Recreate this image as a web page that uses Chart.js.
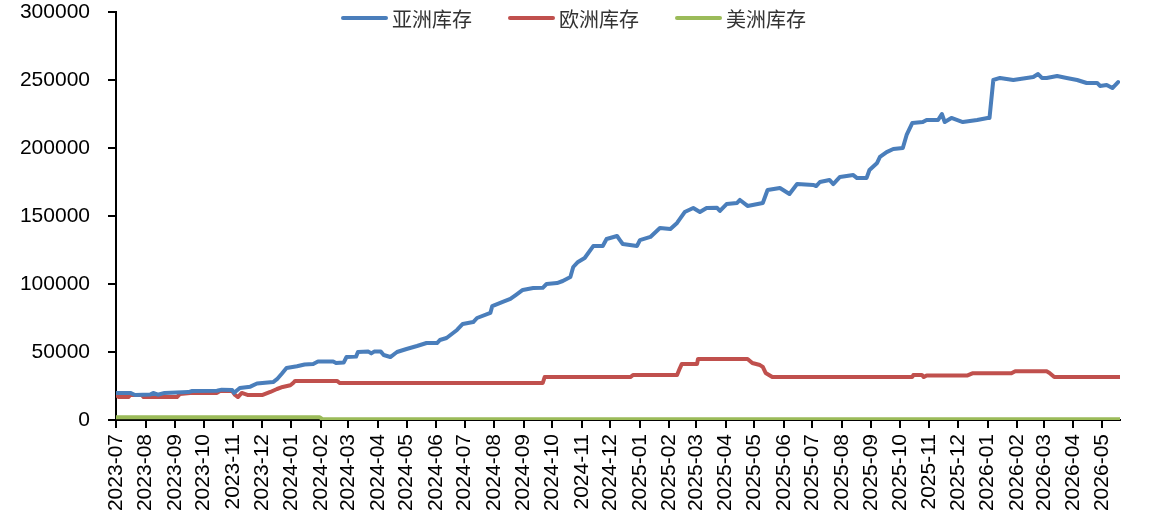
<!DOCTYPE html>
<html>
<head>
<meta charset="utf-8">
<script src="https://cdn.jsdelivr.net/npm/chart.js@4.4.1/dist/chart.umd.min.js"></script>
<style>
  html, body { margin: 0; padding: 0; background: #ffffff; overflow: hidden; }
  #wrap { width: 1151px; height: 519px; }
</style>
</head>
<body>
<div id="wrap"><canvas id="c" width="1151" height="519"></canvas></div>
<script>
// Monthly tick labels on the date axis
const monthTicks = ['2023-07','2023-08','2023-09','2023-10','2023-11','2023-12',
  '2024-01','2024-02','2024-03','2024-04','2024-05','2024-06','2024-07','2024-08',
  '2024-09','2024-10','2024-11','2024-12','2025-01','2025-02','2025-03','2025-04',
  '2025-05','2025-06','2025-07','2025-08','2025-09','2025-10','2025-11','2025-12',
  '2026-01','2026-02','2026-03','2026-04','2026-05'];

const seriesNames = ['亚洲库存', '欧洲库存', '美洲库存'];
const seriesColors = ['#4A7EBB', '#C0504D', '#9BBB59'];

// 亚洲库存
const asiaDates = ['2023-07-01','2023-07-16','2023-07-21','2023-08-06','2023-08-09','2023-08-14','2023-08-21','2023-09-15','2023-09-19','2023-10-15','2023-10-20','2023-10-31','2023-11-02','2023-11-08','2023-11-19','2023-11-26','2023-12-13','2023-12-17','2023-12-22','2023-12-27','2024-01-07','2024-01-15','2024-01-24','2024-01-29','2024-02-14','2024-02-17','2024-02-25','2024-02-28','2024-03-09','2024-03-11','2024-03-22','2024-03-25','2024-03-28','2024-04-04','2024-04-07','2024-04-14','2024-04-21','2024-05-01','2024-05-12','2024-05-22','2024-06-02','2024-06-05','2024-06-12','2024-06-23','2024-06-29','2024-07-10','2024-07-14','2024-07-28','2024-07-30','2024-08-10','2024-08-18','2024-08-24','2024-08-31','2024-09-11','2024-09-21','2024-09-25','2024-10-06','2024-10-12','2024-10-20','2024-10-23','2024-10-28','2024-11-04','2024-11-13','2024-11-23','2024-11-27','2024-12-08','2024-12-11','2024-12-14','2024-12-29','2025-01-01','2025-01-12','2025-01-22','2025-02-02','2025-02-09','2025-02-17','2025-02-26','2025-03-05','2025-03-12','2025-03-23','2025-03-26','2025-04-02','2025-04-13','2025-04-16','2025-04-24','2025-05-10','2025-05-15','2025-05-28','2025-06-07','2025-06-15','2025-07-02','2025-07-05','2025-07-09','2025-07-19','2025-07-23','2025-07-30','2025-08-13','2025-08-17','2025-08-27','2025-08-30','2025-09-07','2025-09-10','2025-09-17','2025-09-24','2025-10-04','2025-10-08','2025-10-14','2025-10-25','2025-10-29','2025-11-10','2025-11-14','2025-11-17','2025-11-24','2025-12-06','2025-12-21','2026-01-01','2026-01-03','2026-01-07','2026-01-14','2026-01-28','2026-02-18','2026-02-23','2026-02-27','2026-03-04','2026-03-15','2026-03-25','2026-04-05','2026-04-15','2026-04-26','2026-04-29','2026-05-06','2026-05-12','2026-05-18'];
const asiaValues = [19900,19900,18400,18800,19900,18600,19900,20500,21300,21500,22300,22000,20000,23500,24500,26800,27900,30000,34000,38200,39500,40800,41200,43000,43000,41900,42200,46300,46600,50000,50300,49000,50300,50300,47800,46300,50000,52200,54400,56600,56600,58800,60300,66200,70600,72000,75000,78700,83800,86800,89000,92000,95600,97000,97200,100000,100700,102200,105100,112500,116200,119100,127900,128000,133100,135300,132300,129400,128000,132300,134600,141200,140400,144900,152900,155900,152900,155900,156000,153700,158800,159600,161800,157400,159600,169100,170600,166200,173500,172800,172000,175000,176500,173500,178700,180100,177900,178000,183800,189000,193400,197000,199300,200000,209600,218400,219100,220600,220600,225000,219100,222100,219100,220600,222100,222100,250000,251500,250000,252200,254400,251500,251500,252900,251500,250000,247800,247800,245600,246300,244100,248500];

// 欧洲库存
const euroDates = ['2023-07-01','2023-07-04','2023-07-14','2023-07-16','2023-07-28','2023-07-30','2023-09-03','2023-09-06','2023-09-17','2023-10-15','2023-10-18','2023-10-31','2023-11-03','2023-11-06','2023-11-10','2023-11-16','2023-12-02','2023-12-10','2023-12-17','2023-12-23','2023-12-31','2024-01-03','2024-01-05','2024-02-18','2024-02-21','2024-09-21','2024-09-23','2024-12-22','2024-12-25','2025-02-09','2025-02-12','2025-02-14','2025-03-02','2025-03-03','2025-04-24','2025-04-29','2025-05-07','2025-05-10','2025-05-13','2025-05-20','2025-10-14','2025-10-15','2025-10-24','2025-10-26','2025-10-29','2025-12-11','2025-12-16','2026-01-26','2026-01-30','2026-03-04','2026-03-07','2026-03-12','2026-05-20'];
const euroValues = [18400,16900,16900,18400,18400,16900,16900,19100,19900,19900,21300,21300,18400,16900,19900,18400,18400,20600,22800,24300,25500,27200,28700,28700,27200,27200,31600,31600,33100,33100,38200,41200,41200,44900,44900,41900,40400,39000,34600,31600,31600,33100,33100,31600,32800,32800,34300,34300,35800,35800,34600,31600,31600];

// 美洲库存
const amerDates = ['2023-07-01','2024-01-31','2024-02-03','2026-05-20'];
const amerValues = [2000,2000,500,500];

const DAY = 86400000;
const origin = Date.UTC(2023, 6, 1);
function dayOf(s) {
  const p = s.split('-').map(Number);
  return (Date.UTC(p[0], p[1] - 1, p[2] || 1) - origin) / DAY;
}
function toPoints(dates, values) {
  return dates.map((d, i) => ({ x: dayOf(d), y: values[i] }));
}

const lastDay = dayOf('2026-05-20');

// Legend drawn across the top of the plot
const topLegend = {
  id: 'topLegend',
  afterDraw(chart) {
    const ctx = chart.ctx;
    const font = '20px "Noto Sans CJK SC", sans-serif';
    ctx.save();
    ctx.font = font;
    const sw = 47, gapText = 4, gapItem = 36;
    const items = chart.data.datasets.map(ds => ({
      label: ds.label, color: ds.borderColor, w: sw + gapText + ctx.measureText(ds.label).width
    }));
    const total = items.reduce((a, it) => a + it.w, 0) + gapItem * (items.length - 1);
    let x = chart.width / 2 - total / 2 - 2;
    const y = 18;
    items.forEach(it => {
      ctx.strokeStyle = it.color;
      ctx.lineWidth = 4;
      ctx.lineCap = 'round';
      ctx.beginPath();
      ctx.moveTo(x + 2, y);
      ctx.lineTo(x + sw - 2, y);
      ctx.stroke();
      ctx.fillStyle = '#333333';
      ctx.textBaseline = 'middle';
      ctx.textAlign = 'left';
      ctx.fillText(it.label, x + sw + gapText, y + 1);
      x += it.w + gapItem;
    });
    ctx.restore();
  }
};

const lineStyle = { borderWidth: 4, pointRadius: 0, tension: 0, fill: false,
  borderJoinStyle: 'round', borderCapStyle: 'round' };

new Chart(document.getElementById('c'), {
  type: 'line',
  data: {
    datasets: [
      Object.assign({ label: seriesNames[0], data: toPoints(asiaDates, asiaValues), borderColor: seriesColors[0], backgroundColor: seriesColors[0] }, lineStyle),
      Object.assign({ label: seriesNames[1], data: toPoints(euroDates, euroValues), borderColor: seriesColors[1], backgroundColor: seriesColors[1] }, lineStyle),
      Object.assign({ label: seriesNames[2], data: toPoints(amerDates, amerValues), borderColor: seriesColors[2], backgroundColor: seriesColors[2] }, lineStyle)
    ]
  },
  options: {
    responsive: false,
    animation: false,
    devicePixelRatio: 1,
    layout: { padding: { top: 12, right: 31, left: 0, bottom: 0 } },
    plugins: { legend: { display: false }, tooltip: { enabled: false } },
    scales: {
      x: {
        type: 'linear',
        min: 0,
        max: lastDay,
        afterBuildTicks: (scale) => { scale.ticks = monthTicks.map(m => ({ value: dayOf(m + '-01') })); },
        afterFit: (scale) => { scale.height = 99; },
        border: { display: true, color: '#000000', width: 2 },
        grid: { drawOnChartArea: false, drawTicks: true, tickLength: 8, color: '#000000', lineWidth: 2 },
        ticks: {
          autoSkip: false,
          minRotation: 90,
          maxRotation: 90,
          padding: 6,
          color: '#000000',
          font: { family: '"Liberation Sans", Arial, sans-serif', size: 21 },
          callback: (v, i) => monthTicks[i]
        }
      },
      y: {
        min: 0,
        max: 300000,
        afterFit: (scale) => { scale.width = 116; scale.paddingTop = 0; scale.paddingBottom = 0; },
        border: { display: true, color: '#000000', width: 2 },
        grid: { drawOnChartArea: false, drawTicks: true, tickLength: 8, color: '#000000', lineWidth: 2 },
        ticks: {
          stepSize: 50000,
          padding: 18,
          color: '#000000',
          font: { family: '"Liberation Sans", Arial, sans-serif', size: 21 },
          callback: (v) => String(v)
        }
      }
    }
  },
  plugins: [topLegend]
});
</script>
</body>
</html>
